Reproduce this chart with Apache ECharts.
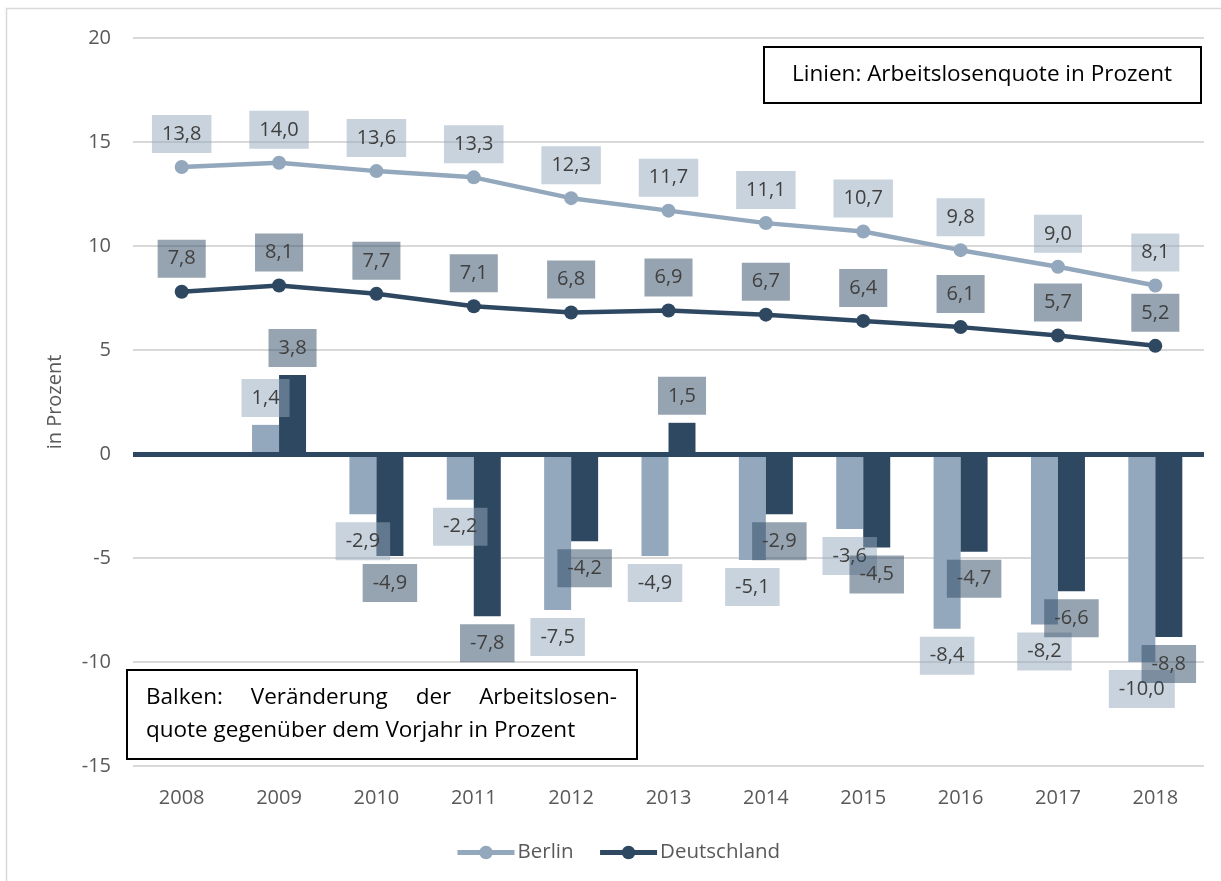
<!doctype html>
<html>
<head>
  <meta charset="utf-8">
  <style>
    html, body { margin: 0; padding: 0; background: #fff; }
    #chart { width: 1221px; height: 881px; }
  </style>
</head>
<body>
  <div id="chart"></div>
  <script src="https://cdn.jsdelivr.net/npm/echarts@6/dist/echarts.min.js"></script>
  <script>
    var years = ['2008', '2009', '2010', '2011', '2012', '2013', '2014', '2015', '2016', '2017', '2018'];
    // Arbeitslosenquote in Prozent (Linien)
    var berlinQuote = [13.8, 14.0, 13.6, 13.3, 12.3, 11.7, 11.1, 10.7, 9.8, 9.0, 8.1];
    var deQuote = [7.8, 8.1, 7.7, 7.1, 6.8, 6.9, 6.7, 6.4, 6.1, 5.7, 5.2];
    // Veraenderung gegenueber Vorjahr in Prozent (Balken)
    var berlinChange = [null, 1.4, -2.9, -2.2, -7.5, -4.9, -5.1, -3.6, -8.4, -8.2, -10.0];
    var deChange = [null, 3.8, -4.9, -7.8, -4.2, 1.5, -2.9, -4.5, -4.7, -6.6, -8.8];

    var cBerlin = '#93a8bc';
    var cDe = '#2e4862';
    var fontFam = '"Open Sans", sans-serif';
    var boxFont = 22.5;

    function fmt(p) {
      return p.value == null ? '' : p.value.toFixed(1).replace('.', ',');
    }
    function lbl(bg, pos, dist) {
      return {
        show: true,
        position: pos,
        distance: dist,
        formatter: fmt,
        color: '#404040',
        fontFamily: fontFam,
        fontSize: 20,
        lineHeight: 22,
        padding: [8, 10],
        backgroundColor: bg
      };
    }

    // Blocksatz-Zeile fuer den unteren Kasten
    function justify(words, x0, x1, y) {
      var cv = document.createElement('canvas').getContext('2d');
      cv.font = boxFont + 'px ' + fontFam;
      var widths = words.map(function (w) { return cv.measureText(w).width; });
      var total = widths.reduce(function (a, b) { return a + b; }, 0);
      var gap = (x1 - x0 - total) / (words.length - 1);
      var out = [], x = x0;
      for (var i = 0; i < words.length; i++) {
        out.push({
          type: 'text', x: x, y: y,
          style: { text: words[i], fontFamily: fontFam, fontSize: boxFont, fill: '#000', verticalAlign: 'middle' }
        });
        x += widths[i] + gap;
      }
      return out;
    }

    var myChart = echarts.init(document.getElementById('chart'));
    var option = {
      animation: false,
      backgroundColor: '#fff',
      textStyle: { fontFamily: fontFam },
      grid: { left: 133, right: 17, top: 38, bottom: 115 },
      legend: {
        data: ['Berlin', 'Deutschland'],
        bottom: 18,
        left: 455,
        padding: 0,
        itemWidth: 57,
        itemHeight: 17,
        itemGap: 24,
        lineStyle: { width: 5 },
        textStyle: { color: '#595959', fontSize: 20.5, fontFamily: fontFam, padding: [0, 0, 0, -2] }
      },
      xAxis: {
        type: 'category',
        data: years,
        axisLine: { show: false },
        axisTick: { show: false },
        axisLabel: { color: '#595959', fontSize: 20, margin: 22 }
      },
      yAxis: {
        type: 'value',
        min: -15,
        max: 20,
        interval: 5,
        name: 'in Prozent',
        nameLocation: 'middle',
        nameGap: 68,
        nameTextStyle: { color: '#595959', fontSize: 20 },
        axisLine: { show: false },
        axisTick: { show: false },
        axisLabel: { color: '#595959', fontSize: 20, margin: 22 },
        splitLine: { lineStyle: { color: '#d9d9d9', width: 2 } }
      },
      series: [
        {
          name: 'Berlin Veränderung',
          type: 'bar',
          data: berlinChange,
          barWidth: 27,
          barGap: '0%',
          itemStyle: { color: cBerlin },
          label: lbl('rgba(147,168,188,0.5)', 'outside', 8),
          markLine: {
            silent: true,
            symbol: 'none',
            label: { show: false },
            lineStyle: { color: cDe, width: 5, type: 'solid' },
            data: [{ yAxis: 0 }]
          }
        },
        {
          name: 'Deutschland Veränderung',
          type: 'bar',
          data: deChange,
          barWidth: 27,
          barGap: '0%',
          itemStyle: { color: cDe },
          label: lbl('rgba(46,72,98,0.5)', 'outside', 8)
        },
        {
          name: 'Berlin',
          type: 'line',
          data: berlinQuote,
          symbol: 'circle',
          symbolSize: 14,
          color: cBerlin,
          lineStyle: { color: cBerlin, width: 4.5 },
          itemStyle: { color: cBerlin },
          label: lbl('rgba(147,168,188,0.5)', 'top', 7),
          z: 3
        },
        {
          name: 'Deutschland',
          type: 'line',
          data: deQuote,
          symbol: 'circle',
          symbolSize: 14,
          color: cDe,
          lineStyle: { color: cDe, width: 4.5 },
          itemStyle: { color: cDe },
          label: lbl('rgba(46,72,98,0.5)', 'top', 7),
          z: 3
        }
      ],
      graphic: [
        {
          type: 'polyline', z: -10, silent: true,
          shape: { points: [[6.5, 881], [6.5, 8.5], [1221, 8.5]] },
          style: { fill: null, stroke: '#d9d9d9', lineWidth: 1.5 }
        },
        {
          type: 'rect', z: 100,
          shape: { x: 764, y: 47, width: 437, height: 56 },
          style: { fill: '#fff', stroke: '#000', lineWidth: 2 }
        },
        {
          type: 'text', z: 101, x: 982, y: 75,
          style: {
            text: 'Linien: Arbeitslosenquote in Prozent', fontFamily: fontFam, fontSize: boxFont,
            fill: '#000', align: 'center', verticalAlign: 'middle'
          }
        },
        {
          type: 'rect', z: 100,
          shape: { x: 127, y: 670, width: 510, height: 89 },
          style: { fill: '#fff', stroke: '#000', lineWidth: 2 }
        }
      ]
    };
    var g1 = justify(['Balken:', 'Veränderung', 'der', 'Arbeitslosen-'], 146, 617, 698);
    var g2 = [{
      type: 'text', x: 146, y: 731,
      style: { text: 'quote gegenüber dem Vorjahr in Prozent', fontFamily: fontFam, fontSize: boxFont, fill: '#000', verticalAlign: 'middle' }
    }];
    g1.concat(g2).forEach(function (g) { g.z = 101; option.graphic.push(g); });
    myChart.setOption(option);
  </script>
</body>
</html>
